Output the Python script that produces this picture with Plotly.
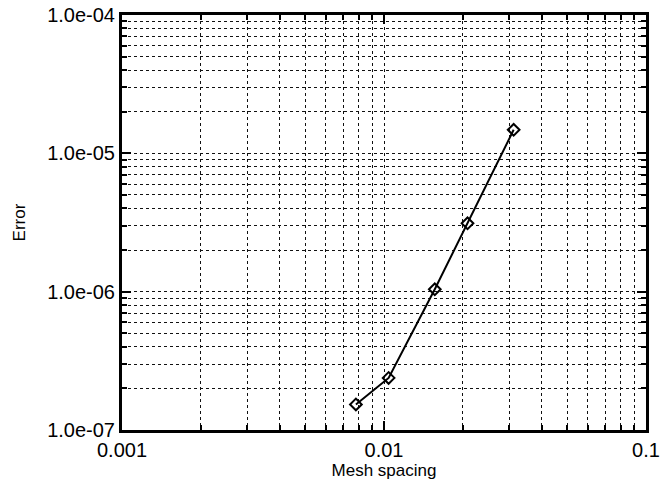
import plotly.graph_objects as go

mesh_spacing = [1/128, 1/96, 1/64, 1/48, 1/32]
error = [1.53e-7, 2.38e-7, 1.04e-6, 3.12e-6, 1.48e-5]

x_tickvals = [0.001, 0.01, 0.1]
x_ticktext = ["0.001", "0.01", "0.1"]
y_tickvals = [1e-7, 1e-6, 1e-5, 1e-4]
y_ticktext = ["1.0e-07", "1.0e-06", "1.0e-05", "1.0e-04"]

FONT = "Liberation Sans, Arial, sans-serif"

fig = go.Figure()
fig.add_trace(go.Scatter(
    x=mesh_spacing, y=error, mode="lines+markers",
    line=dict(color="black", width=2),
    marker=dict(symbol="diamond-open", size=9, color="black", line=dict(width=2)),
    showlegend=False,
))

axis_common = dict(
    type="log", showline=True, linewidth=3, linecolor="black", mirror="ticks",
    ticks="inside", ticklen=9, tickwidth=2, tickcolor="black",
    showgrid=True, gridcolor="#111", griddash="dot", gridwidth=1.2,
    zeroline=False, automargin=False,
    tickfont=dict(family=FONT, size=20, color="black"),
    minor=dict(ticks="inside", ticklen=5, tickwidth=1.5, tickcolor="black",
               dtick="D1", showgrid=True, gridcolor="#111", griddash="dot", gridwidth=1.2),
)

fig.update_xaxes(
    **axis_common, range=[-3, -1], tickvals=x_tickvals, ticktext=x_ticktext,
    title=dict(text="Mesh spacing", font=dict(family=FONT, size=17, color="black"), standoff=0),
)
fig.update_yaxes(
    **axis_common, range=[-7, -4], tickvals=y_tickvals, ticktext=y_ticktext,
    title=dict(text="Error", font=dict(family=FONT, size=17, color="black"), standoff=18),
)

fig.update_layout(
    width=661, height=488,
    margin=dict(l=122, r=15, t=15, b=58, autoexpand=False),
    paper_bgcolor="white", plot_bgcolor="white",
)

fig.write_html("out.html", config={"displayModeBar": False},
               post_script="document.body.style.margin='0';document.body.style.padding='0';")
